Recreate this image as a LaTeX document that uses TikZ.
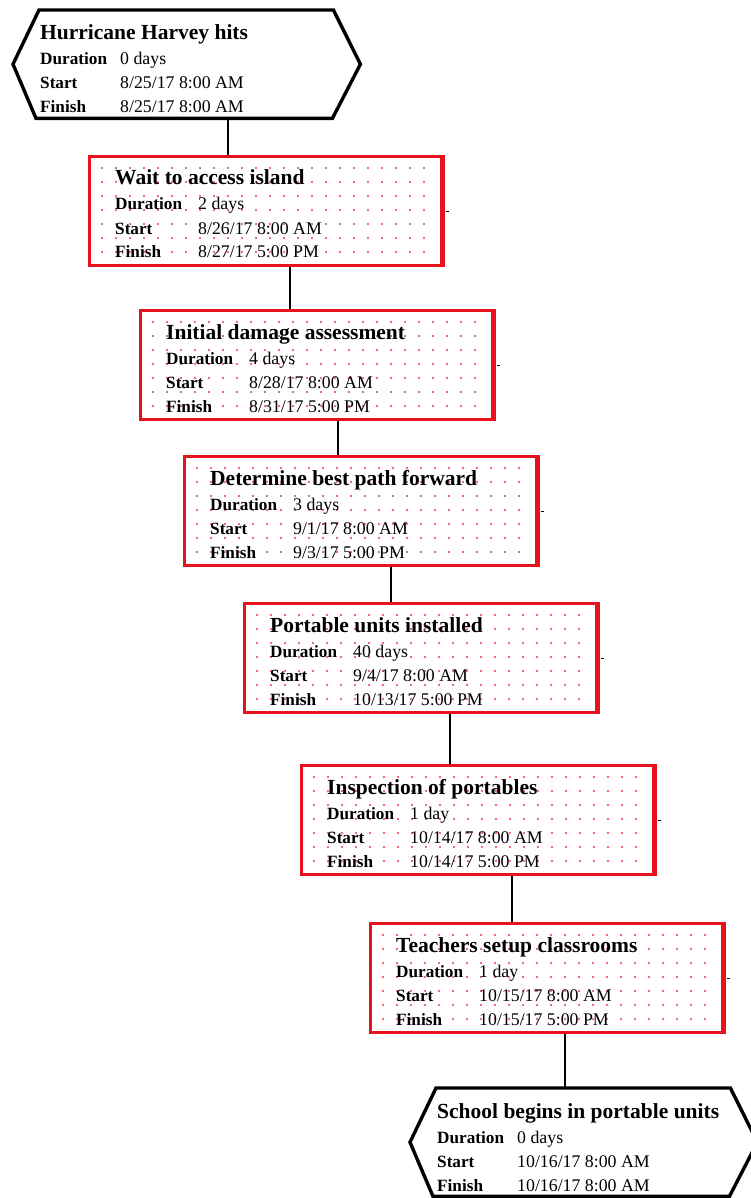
\documentclass[tikz,border=0pt]{standalone}
\usepackage{fontspec}
\setmainfont{Liberation Serif}
\usetikzlibrary{calc}

\definecolor{boxred}{RGB}{232,18,28}
\definecolor{dotred}{RGB}{234,60,70}

\tikzset{
  taskframe/.style={draw=boxred, line width=2.6pt, rectangle, inner sep=0pt,
    minimum width=352pt, minimum height=109pt, anchor=north west},
  mileframe/.style={rectangle, inner sep=0pt,
    minimum width=347pt, minimum height=108pt, anchor=north west},
  hexline/.style={draw=black, line width=3.4pt, line join=miter},
  titletext/.style={anchor=base west, inner sep=0pt, font=\fontsize{21.5}{22}\selectfont\bfseries},
  labeltext/.style={anchor=base west, inner sep=0pt, font=\fontsize{17.2}{18}\selectfont\bfseries},
  valuetext/.style={anchor=base west, inner sep=0pt, font=\fontsize{17.8}{18}\selectfont},
  link/.style={draw=black, line width=1.4pt},
  dot/.style={fill=dotred},
}

% text block shared by tasks and milestones
\newcommand\fieldrows[6]{%
  \node[titletext] (#1t) at ([shift={(27,30)}]#1.north west) {#2};
  \node[labeltext] (#1dl) at ([shift={(27,55)}]#1.north west) {Duration};
  \node[valuetext] (#1dv) at ([shift={(#6,55)}]#1.north west) {#3};
  \node[labeltext] (#1sl) at ([shift={(27,79)}]#1.north west) {Start};
  \node[valuetext] (#1sv) at ([shift={(#6,79)}]#1.north west) {#4};
  \node[labeltext] (#1fl) at ([shift={(27,103)}]#1.north west) {Finish};
  \node[valuetext] (#1fv) at ([shift={(#6,103)}]#1.north west) {#5};
}

% task box: red frame with dotted fill
\newcommand\taskbox[7]{%
  \node[taskframe] (#1) at (#2,#3) {};
  \draw[boxred, line width=2pt] ([xshift=1.8pt]#1.north east) -- ([xshift=1.8pt]#1.south east);
  \foreach \i in {0,...,23}{
    \foreach \j in {0,...,6}{
      \fill[dot] ([shift={(14+14*\i,13+14*\j)}]#1.north west) circle (1.1);
    }
  }
  \draw[black, line width=0.8pt] ([shift={(3,56)}]#1.north east) -- ++(3,0);
  \fieldrows{#1}{#4}{#5}{#6}{#7}{110}
}

% milestone: black hexagon
\newcommand\milestone[7]{%
  \node[mileframe] (#1) at (#2,#3) {};
  \draw[hexline] ([xshift=26pt]#1.north west) -- ([xshift=-27pt]#1.north east)
    -- (#1.east) -- ([xshift=-28pt]#1.south east) -- ([xshift=23pt]#1.south west)
    -- (#1.west) -- cycle;
  \fieldrows{#1}{#4}{#5}{#6}{#7}{107}
}

\begin{document}
\begin{tikzpicture}[x=1pt,y=-1pt]
  \clip (0,0) rectangle (751,1198);
  \fill[white] (0,0) rectangle (751,1198);

  \milestone{m0}{13}{10}{Hurricane Harvey hits}{0 days}{8/25/17 8:00 AM}{8/25/17 8:00 AM}
  \taskbox{t1}{88}{155}{Wait to access island}{2 days}{8/26/17 8:00 AM}{8/27/17 5:00 PM}
  \taskbox{t2}{139}{309}{Initial damage assessment}{4 days}{8/28/17 8:00 AM}{8/31/17 5:00 PM}
  \taskbox{t3}{183}{455}{Determine best path forward}{3 days}{9/1/17 8:00 AM}{9/3/17 5:00 PM}
  \taskbox{t4}{243}{602}{Portable units installed}{40 days}{9/4/17 8:00 AM}{10/13/17 5:00 PM}
  \taskbox{t5}{300}{764}{Inspection of portables}{1 day}{10/14/17 8:00 AM}{10/14/17 5:00 PM}
  \taskbox{t6}{369}{922}{Teachers setup classrooms}{1 day}{10/15/17 8:00 AM}{10/15/17 5:00 PM}
  \milestone{m1}{410}{1088}{School begins in portable units}{0 days}{10/16/17 8:00 AM}{10/16/17 8:00 AM}

  % links between successive items
  \coordinate (k0) at (228,0);
  \coordinate (k1) at (290,0);
  \coordinate (k2) at (338,0);
  \coordinate (k3) at (391,0);
  \coordinate (k4) at (450,0);
  \coordinate (k5) at (512,0);
  \coordinate (k6) at (565,0);
  \draw[link] (m0.south -| k0) -- (t1.north -| k0);
  \draw[link] (t1.south -| k1) -- (t2.north -| k1);
  \draw[link] (t2.south -| k2) -- (t3.north -| k2);
  \draw[link] (t3.south -| k3) -- (t4.north -| k3);
  \draw[link] (t4.south -| k4) -- (t5.north -| k4);
  \draw[link] (t5.south -| k5) -- (t6.north -| k5);
  \draw[link] (t6.south -| k6) -- (m1.north -| k6);
\end{tikzpicture}
\end{document}
